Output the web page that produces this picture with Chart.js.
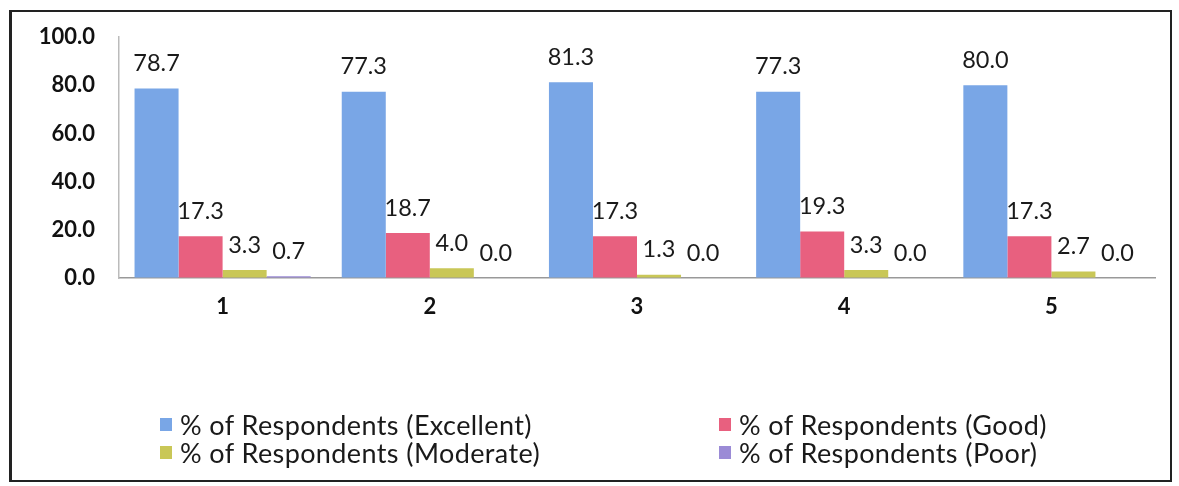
<!DOCTYPE html>
<html>
<head>
<meta charset="utf-8">
<script src="https://cdn.jsdelivr.net/npm/chart.js@4.4.1/dist/chart.umd.min.js"></script>
<style>
  html, body { margin: 0; padding: 0; background: #fff; }
  #wrap { position: relative; width: 1179px; height: 486px; overflow: hidden; }
  #frame { position: absolute; left: 9px; top: 10px; width: 1158px; height: 468px; border: 2px solid #222; border-left-width: 3px; }
  #myChart { position: absolute; left: 0; top: 0; }
  #legend { position: absolute; left: 0; top: 0; width: 1179px; height: 486px; pointer-events: none;
            font-family: Lato, "Open Sans", sans-serif; font-size: 27px; line-height: 27px; letter-spacing: 0.4px; color: #1a1a1a; }
  .item { position: absolute; display: flex; align-items: center; white-space: nowrap; }
  .box { width: 12px; height: 13px; margin-right: 8px; }
</style>
</head>
<body>
<div id="wrap">
  <div id="frame"></div>
  <canvas id="myChart" width="1179" height="486"></canvas>
  <div id="legend"></div>
</div>
<script>
const categories = ['1', '2', '3', '4', '5'];
const excellent = [78.7, 77.3, 81.3, 77.3, 80.0];
const good = [17.3, 18.7, 17.3, 19.3, 17.3];
const moderate = [3.3, 4.0, 1.3, 3.3, 2.7];
const poor = [0.7, 0.0, 0.0, 0.0, 0.0];
const yTicks = [0, 20, 40, 60, 80, 100];

// value labels above each bar
const barLabels = {
  id: 'barLabels',
  afterDatasetsDraw(chart) {
    const c = chart.ctx;
    c.save();
    c.font = '23.5px Lato, "Open Sans", sans-serif';
    c.fillStyle = '#1a1a1a';
    c.textAlign = 'center';
    c.textBaseline = 'middle';
    chart.data.datasets.forEach((ds, i) => {
      chart.getDatasetMeta(i).data.forEach((bar, j) => {
        c.fillText(ds.data[j].toFixed(1), bar.x, bar.y - 25);
      });
    });
    c.restore();
  }
};

const ctx = document.getElementById('myChart').getContext('2d');
const config = {
  type: 'bar',
  data: {
    labels: categories,
    datasets: [
      { label: '% of Respondents (Excellent)', data: excellent, backgroundColor: '#79a6e6' },
      { label: '% of Respondents (Good)', data: good, backgroundColor: '#e8607f' },
      { label: '% of Respondents (Moderate)', data: moderate, backgroundColor: '#c9c757' },
      { label: '% of Respondents (Poor)', data: poor, backgroundColor: '#9b8bd6' }
    ]
  },
  options: {
    responsive: false,
    animation: false,
    layout: { padding: { top: 35, right: 24, bottom: 158, left: 0 } },
    datasets: { bar: { categoryPercentage: 0.85, barPercentage: 1.0 } },
    plugins: {
      legend: { display: false },
      tooltip: { enabled: false }
    },
    scales: {
      x: {
        grid: { color: 'transparent', drawTicks: false },
        border: { display: true, color: '#999', width: 1.5 },
        ticks: { color: '#111', padding: 16, font: { family: 'Lato', size: 22, weight: 'bold' } },
        afterFit(scale) { scale.height = 50; }
      },
      y: {
        min: 0,
        max: 100,
        afterBuildTicks(scale) { scale.ticks = yTicks.map(v => ({ value: v })); },
        grid: { color: 'transparent', drawTicks: false },
        border: { display: true, color: '#bbb', width: 1.5 },
        ticks: {
          color: '#111',
          padding: 24,
          font: { family: 'Lato', size: 22, weight: 'bold' },
          callback: v => Number(v).toFixed(1)
        },
        afterFit(scale) { scale.width = 119; }
      }
    }
  },
  plugins: [barLabels]
};

var myChart = new Chart(ctx, config);

// legend in two columns, built from the chart's datasets
const legendPos = [[160, 411], [719, 411], [160, 439], [719, 439]];
const legendEl = document.getElementById('legend');
myChart.data.datasets.forEach((ds, i) => {
  const item = document.createElement('div');
  item.className = 'item';
  item.style.left = legendPos[i][0] + 'px';
  item.style.top = legendPos[i][1] + 'px';
  const box = document.createElement('span');
  box.className = 'box';
  box.style.background = ds.backgroundColor;
  const txt = document.createElement('span');
  txt.textContent = ds.label;
  item.appendChild(box);
  item.appendChild(txt);
  legendEl.appendChild(item);
});
</script>
</body>
</html>
